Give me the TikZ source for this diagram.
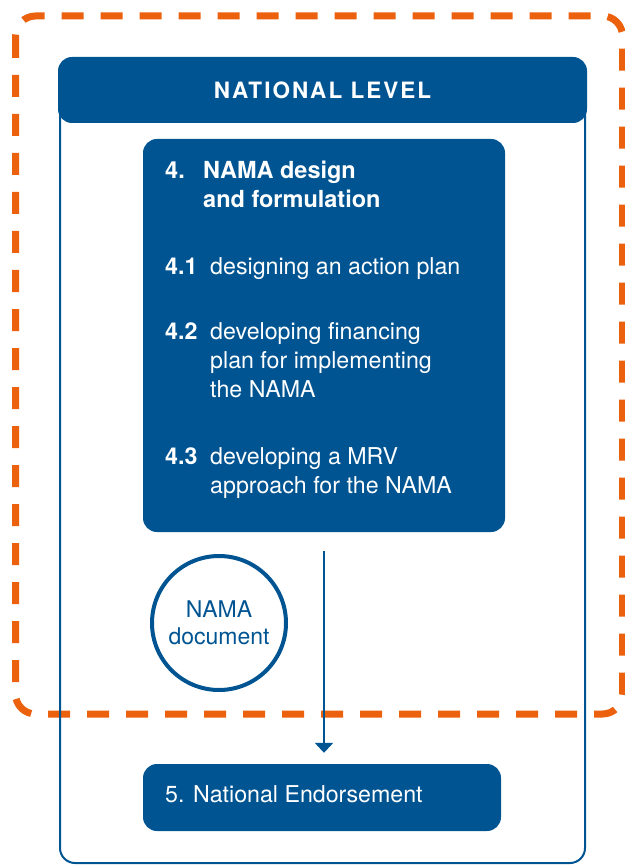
\documentclass[tikz,border=0pt]{standalone}
\usepackage{fontspec}
\setmainfont{TeX Gyre Heros}
\usetikzlibrary{arrows.meta}

\definecolor{namablue}{RGB}{0,84,146}
\definecolor{frameorange}{RGB}{236,97,14}

\tikzset{
	bluebox/.style={rectangle, rounded corners=14pt, fill=namablue, draw=none, inner sep=0pt},
	itemtext/.style={anchor=base west, inner sep=0pt, text=white, font=\fontsize{23.2}{29}\selectfont},
	framedash/.style={draw=frameorange, line width=7pt, rounded corners=20pt, dash pattern=on 22pt off 17pt},
	levelline/.style={draw=namablue, line width=2pt, rounded corners=15pt},
	flow/.style={draw=namablue, line width=2.5pt, -{Triangle[width=18pt,length=10pt]}}
}

\begin{document}
\begin{tikzpicture}[x=1pt,y=-1pt]
		\useasboundingbox (0,0) rectangle (624,866);

		% frame and national level box
		\draw[framedash] (15.5,16) rectangle (622.5,714);
		\draw[levelline] (60,80) rectangle (585,863);
		\draw (322.5,90) node [bluebox, minimum width=529pt, minimum height=66pt, text=white,
			font=\fontsize{22.5}{25}\selectfont\bfseries\addfontfeatures{LetterSpace=9}] (level) {NATIONAL LEVEL};

		% step 4
		\draw (324,335.5) node [bluebox, minimum width=362pt, minimum height=393pt] (design) {};
		\draw (165,179) node [itemtext, font=\fontsize{23.5}{29}\selectfont\bfseries] (title)
			{\begin{tabular}[t]{@{}p{38pt}@{}l@{}}4. & NAMA design\\ & and formulation\end{tabular}};
		\draw (165,275) node [itemtext] (plan)
			{\begin{tabular}[t]{@{}p{45pt}@{}l@{}}\textbf{4.1} & designing an action plan\end{tabular}};
		\draw (165,339) node [itemtext] (finance)
			{\begin{tabular}[t]{@{}p{45pt}@{}l@{}}\textbf{4.2} & developing financing\\ & plan for implementing\\ & the NAMA\end{tabular}};
		\draw (165,464) node [itemtext] (mrv)
			{\begin{tabular}[t]{@{}p{45pt}@{}l@{}}\textbf{4.3} & developing a MRV\\ & approach for the NAMA\end{tabular}};

		% output document
		\draw (219,623) node [circle, draw=namablue, line width=4pt, minimum size=134pt, inner sep=0pt,
			text=namablue, align=center, font=\fontsize{23}{27}\selectfont] (doc) {NAMA\\document};

		% step 5
		\draw (322,797.5) node [bluebox, minimum width=358pt, minimum height=67pt] (endorse) {};
		\draw (165,802) node [itemtext] (endorsetext) {5. National Endorsement};

		\draw[flow, shorten <=19pt, shorten >=11pt] (design.south) -- (design.south |- endorse.north);
	\end{tikzpicture}
\end{document}
